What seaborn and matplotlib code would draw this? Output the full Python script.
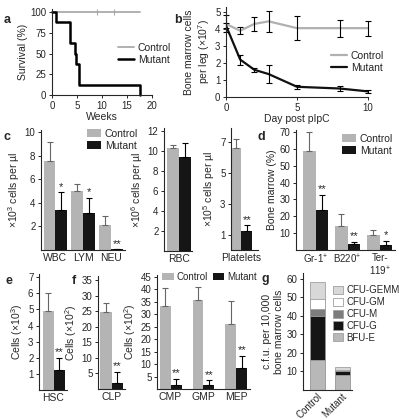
import numpy as np
import pandas as pd
import matplotlib
matplotlib.use("Agg")
import matplotlib.pyplot as plt
import seaborn as sns

# ---------------- dados ----------------
# a: sobrevivência (Kaplan-Meier)
surv_ctrl_weeks = [0, 17.5]
surv_ctrl_pct = [100, 100]
surv_ctrl_censor = [9.0, 12.3]
surv_mut_weeks = [0, 0.7, 3.5, 4.6, 4.8, 5.3, 17.6]
surv_mut_pct = [100, 87.5, 62.5, 50, 37.5, 12.5, 0]

# b: células da medula por perna (x10^7)
bm_days = [0, 1, 2, 3, 5, 8, 10]
bm_ctrl = [4.3, 3.9, 4.3, 4.45, 4.05, 4.05, 4.05]
bm_ctrl_err = [0.5, 0.2, 0.4, 0.6, 0.7, 0.5, 0.45]
bm_mut = [4.2, 2.2, 1.6, 1.35, 0.6, 0.5, 0.33]
bm_mut_err = [0.15, 0.3, 0.1, 0.55, 0.1, 0.15, 0.1]

# c: hemograma
blood_cats = ["WBC", "LYM", "NEU"]
blood_ctrl = [7.6, 5.0, 2.15]
blood_ctrl_err = [1.6, 0.65, 0.75]
blood_mut = [3.4, 3.15, 0.05]
blood_mut_err = [1.5, 1.25, 0.0]
blood_stars = ["*", "*", "**"]

rbc_cats = ["RBC"]
rbc_ctrl = [10.3]
rbc_ctrl_err = [0.3]
rbc_mut = [9.4]
rbc_mut_err = [1.4]

plt_cats = ["Platelets"]
plt_ctrl = [6.6]
plt_ctrl_err = [0.6]
plt_mut = [1.25]
plt_mut_err = [0.35]

# d: linhagens na medula (%)
lin_cats = [r"Gr-1$^{+}$", r"B220$^{+}$", "Ter-\n" + r"119$^{+}$"]
lin_ctrl = [59, 14.5, 8.7]
lin_ctrl_err = [11, 7, 3]
lin_mut = [24, 3.8, 3.0]
lin_mut_err = [8.5, 1.2, 2.5]
lin_stars = ["**", "**", "*"]

# e / f: progenitores
hsc_cats = ["HSC"]
hsc_ctrl = [4.9]
hsc_ctrl_err = [1.1]
hsc_mut = [1.25]
hsc_mut_err = [0.75]

clp_cats = ["CLP"]
clp_ctrl = [24.8]
clp_ctrl_err = [2.8]
clp_mut = [1.8]
clp_mut_err = [3.7]

prog_cats = ["CMP", "GMP", "MEP"]
prog_ctrl = [33.5, 35.8, 26.3]
prog_ctrl_err = [7.0, 5.2, 9.2]
prog_mut = [1.5, 1.5, 8.5]
prog_mut_err = [2.5, 2.0, 4.8]
prog_stars = ["**", "**", "**"]

# g: colônias (c.f.u. por 10.000 células)
cfu_groups = ["Control", "Mutant"]
cfu_types = ["BFU-E", "CFU-G", "CFU-M", "CFU-GM", "CFU-GEMM"]
cfu_ctrl = [16, 23.6, 4.1, 5.3, 8.9]
cfu_mut = [8, 2.3, 0, 0.5, 1.5]

# ---------------- estilo ----------------
sns.set_theme(style="ticks")
plt.rcParams["font.family"] = ["Liberation Sans", "DejaVu Sans"]
plt.rcParams["mathtext.fontset"] = "custom"
plt.rcParams["mathtext.rm"] = "Liberation Sans"
plt.rcParams["mathtext.it"] = "Liberation Sans:italic"
plt.rcParams["axes.linewidth"] = 0.8

C_CTRL = "#b4b4b4"
C_MUT = "#151515"
PAL = {"Control": C_CTRL, "Mutant": C_MUT}
TICK = 7
LAB = 7.5

W, H = 399, 420
fig = plt.figure(figsize=(W / 100, H / 100), dpi=100)


def add_ax(x0, y0, x1, y1):
    # caixa em pixels (y0 = topo, y1 = base)
    ax = fig.add_axes([x0 / W, 1 - y1 / H, (x1 - x0) / W, (y1 - y0) / H])
    sns.despine(ax=ax)
    ax.tick_params(labelsize=TICK, length=2.5, width=0.7, pad=1.5)
    return ax


def draw_bars(ax, cats, ctrl, ctrl_err, mut, mut_err, stars=None, width=0.8, legend=False):
    df = pd.DataFrame({
        "cat": cats * 2,
        "val": list(ctrl) + list(mut),
        "group": ["Control"] * len(cats) + ["Mutant"] * len(cats),
    })
    sns.barplot(data=df, x="cat", y="val", hue="group", palette=PAL, width=width,
                errorbar=None, linewidth=0, ax=ax, legend=legend, saturation=1)
    for cont, errs, ecol in zip(ax.containers, [ctrl_err, mut_err], ["#666666", "#000000"]):
        xs = [p.get_x() + p.get_width() / 2 for p in cont.patches]
        hs = [p.get_height() for p in cont.patches]
        ax.errorbar(xs, hs, yerr=[np.zeros(len(errs)), errs], fmt="none", ecolor=ecol,
                    elinewidth=0.8, capsize=2, capthick=0.8, clip_on=False)
    if stars:
        cont = ax.containers[1]
        for p, e, s in zip(cont.patches, mut_err, stars):
            ax.annotate(s, (p.get_x() + p.get_width() / 2, p.get_height() + e),
                        xytext=(0, 0.5), textcoords="offset points",
                        ha="center", va="bottom", fontsize=8)
    ax.set_xlabel("")
    ax.set_ylabel("")
    ax.tick_params(axis="x", length=0, labelsize=LAB, pad=2)


def fig_legend(ax, x, y, **kw):
    opts = dict(frameon=False, fontsize=LAB, borderpad=0, borderaxespad=0,
                handlelength=1.3, handleheight=0.8, handletextpad=0.4, labelspacing=0.2)
    opts.update(kw)
    return ax.legend(loc="upper left", bbox_to_anchor=(x / W, 1 - y / H),
                     bbox_transform=fig.transFigure, **opts)


def panel_label(s, x, y):
    fig.text(x / W, 1 - y / H, s, fontsize=9, fontweight="bold", ha="left", va="center")


# ---------------- a ----------------
ax = add_ax(52, 8.7, 152, 95)
sns.lineplot(x=surv_ctrl_weeks, y=surv_ctrl_pct, color="#aaaaaa", lw=1.3,
             drawstyle="steps-post", estimator=None, ax=ax, label="Control")
sns.lineplot(x=surv_mut_weeks, y=surv_mut_pct, color="#000000", lw=1.8,
             drawstyle="steps-post", estimator=None, ax=ax, label="Mutant")
sns.scatterplot(x=surv_ctrl_censor, y=[100] * len(surv_ctrl_censor), marker="|",
                color="#aaaaaa", s=15, linewidth=0.8, ax=ax, legend=False, clip_on=False)
ax.set_xlim(0, 20)
ax.set_ylim(0, 104)
ax.set_xticks([0, 5, 10, 15, 20])
ax.set_yticks([0, 25, 50, 75, 100])
ax.set_xlabel("Weeks", fontsize=LAB, labelpad=1)
ax.set_ylabel("Survival (%)", fontsize=LAB, labelpad=2)
for ln in ax.get_lines():
    ln.set_clip_on(False)
fig_legend(ax, 118, 43, handlelength=1.5)
panel_label("a", 4, 20)

# ---------------- b ----------------
ax = add_ax(226, 6.9, 368, 97)
sns.lineplot(x=bm_days, y=bm_ctrl, color="#b0b0b0", lw=1.6, ax=ax, label="Control",
             estimator=None)
sns.lineplot(x=bm_days, y=bm_mut, color="#111111", lw=1.6, ax=ax, label="Mutant",
             estimator=None)
ax.errorbar(bm_days, bm_ctrl, yerr=bm_ctrl_err, fmt="none", ecolor="#000000",
            elinewidth=0.8, capsize=2, capthick=0.8, clip_on=False)
ax.errorbar(bm_days, bm_mut, yerr=bm_mut_err, fmt="none", ecolor="#000000",
            elinewidth=0.8, capsize=2, capthick=0.8, clip_on=False)
ax.set_xlim(0, 10)
ax.set_ylim(0, 5.3)
ax.set_xticks([0, 5, 10])
ax.set_yticks([0, 1, 2, 3, 4, 5])
ax.set_xlabel("Day post pIpC", fontsize=LAB, labelpad=1)
ax.set_ylabel("Bone marrow cells\n" + r"per leg ($\times$10$^{7}$)", fontsize=LAB, labelpad=2)
fig_legend(ax, 331, 51, handlelength=1.5)
panel_label("b", 174, 20)

# ---------------- c ----------------
ax = add_ax(41, 130, 125, 250)
draw_bars(ax, blood_cats, blood_ctrl, blood_ctrl_err, blood_mut, blood_mut_err,
          blood_stars, width=0.85, legend=True)
ax.set_xlim(-0.52, 2.5)
ax.set_ylim(0, 10.2)
ax.set_yticks([2, 4, 6, 8, 10])
ax.set_ylabel(r"$\times$10$^{3}$ cells per µl", fontsize=LAB, labelpad=2)
fig_legend(ax, 87, 129)
panel_label("c", 4, 137)

ax = add_ax(164, 128, 192, 251)
draw_bars(ax, rbc_cats, rbc_ctrl, rbc_ctrl_err, rbc_mut, rbc_mut_err)
ax.set_xlim(-0.5, 0.43)
ax.set_ylim(0, 12.3)
ax.set_yticks([2, 4, 6, 8, 10, 12])
ax.set_ylabel(r"$\times$10$^{6}$ cells per µl", fontsize=LAB, labelpad=2)

ax = add_ax(231, 128, 258, 250)
draw_bars(ax, plt_cats, plt_ctrl, plt_ctrl_err, plt_mut, plt_mut_err, ["**"])
ax.set_xlim(-0.4, 0.63)
ax.set_ylim(0, 7.9)
ax.set_yticks([1, 3, 5, 7])
ax.set_ylabel(r"$\times$10$^{5}$ cells per µl", fontsize=LAB, labelpad=2)

# ---------------- d ----------------
ax = add_ax(296, 129.5, 395, 250)
draw_bars(ax, lin_cats, lin_ctrl, lin_ctrl_err, lin_mut, lin_mut_err, lin_stars,
          legend=True)
ax.set_xlim(-0.61, 2.48)
ax.set_ylim(0, 71.5)
ax.set_yticks([10, 20, 30, 40, 50, 60, 70])
ax.set_ylabel("Bone marrow (%)", fontsize=LAB, labelpad=2)
ax.tick_params(axis="x", labelsize=TICK)
fig_legend(ax, 342, 134)
panel_label("d", 257, 137)

# ---------------- e ----------------
ax = add_ax(39, 274, 67, 390)
draw_bars(ax, hsc_cats, hsc_ctrl, hsc_ctrl_err, hsc_mut, hsc_mut_err, ["**"])
ax.set_xlim(-0.53, 0.49)
ax.set_ylim(0, 7.2)
ax.set_yticks([1, 2, 3, 4, 5, 6, 7])
ax.set_ylabel(r"Cells ($\times$10$^{3}$)", fontsize=LAB, labelpad=2)
panel_label("e", 6, 281)

# ---------------- f ----------------
ax = add_ax(98, 276, 125, 389)
draw_bars(ax, clp_cats, clp_ctrl, clp_ctrl_err, clp_mut, clp_mut_err, ["**"])
ax.set_xlim(-0.49, 0.49)
ax.set_ylim(0, 36.3)
ax.set_yticks([5, 10, 15, 20, 25, 30, 35])
ax.set_ylabel(r"Cells ($\times$10$^{2}$)", fontsize=LAB, labelpad=2)
panel_label("f", 72, 281)

ax = add_ax(157, 275, 250, 389)
draw_bars(ax, prog_cats, prog_ctrl, prog_ctrl_err, prog_mut, prog_mut_err, prog_stars,
          width=0.667, legend=True)
ax.set_xlim(-0.41, 2.41)
ax.set_ylim(0, 45.8)
ax.set_yticks([5, 10, 15, 20, 25, 30, 35, 40, 45])
ax.set_ylabel(r"Cells ($\times$10$^{2}$)", fontsize=LAB, labelpad=2)
fig_legend(ax, 162, 272, ncol=2, columnspacing=0.5, fontsize=7, handlelength=1.2,
           handletextpad=0.3)

# ---------------- g ----------------
ax = add_ax(303, 273, 352, 390)
cfu_cols = {"BFU-E": "#b8b8b8", "CFU-G": "#151515", "CFU-M": "#7d7d7d",
            "CFU-GM": "#ffffff", "CFU-GEMM": "#d8d8d8"}
cum_ctrl = np.cumsum(cfu_ctrl)
cum_mut = np.cumsum(cfu_mut)
# camadas acumuladas, da maior para a menor (sobrepostas)
for i in range(len(cfu_types) - 1, -1, -1):
    dfg = pd.DataFrame({"grp": cfu_groups, "val": [cum_ctrl[i], cum_mut[i]]})
    sns.barplot(data=dfg, x="grp", y="val", color=cfu_cols[cfu_types[i]], width=0.6,
                edgecolor="#a0a0a0", linewidth=0.6, errorbar=None, ax=ax,
                label=cfu_types[i], saturation=1)
ax.set_xlim(-0.56, 1.4)
ax.set_ylim(0, 63)
ax.set_yticks([10, 20, 30, 40, 50, 60])
ax.set_xlabel("")
ax.set_ylabel("c.f.u. per 10,000\nbone marrow cells", fontsize=LAB, labelpad=2)
ax.tick_params(axis="x", length=0, labelsize=7, pad=1)
for t in ax.get_xticklabels():
    t.set_rotation(45)
    t.set_ha("right")
    t.set_rotation_mode("anchor")
ax.legend(loc="upper left", bbox_to_anchor=(333 / W, 1 - 285 / H),
          bbox_transform=fig.transFigure, frameon=False, fontsize=7,
          borderpad=0, borderaxespad=0, handlelength=1.0, handleheight=0.9,
          handletextpad=0.4, labelspacing=0.2)
panel_label("g", 261, 279)

fig.savefig("out.png", dpi=100)
